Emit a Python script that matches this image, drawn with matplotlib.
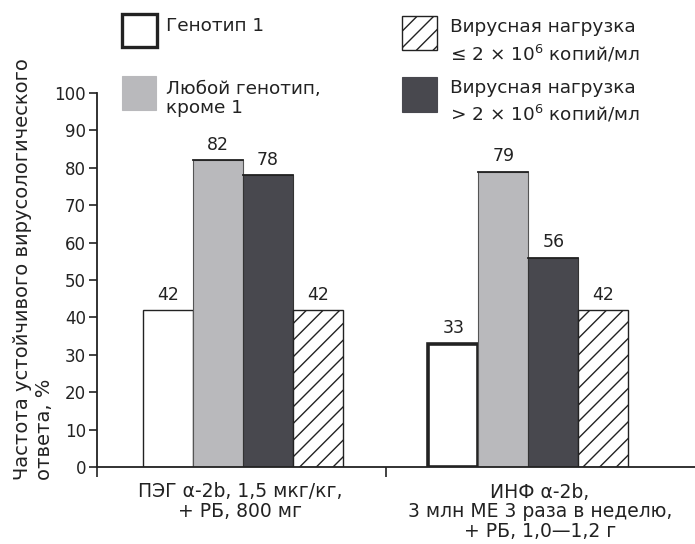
import matplotlib
matplotlib.use("Agg")
import matplotlib.pyplot as plt
import numpy as np
from matplotlib.patches import Rectangle

plt.rcParams['font.family'] = ['DejaVu Sans']
plt.rcParams['mathtext.fontset'] = 'dejavusans'
plt.rcParams['hatch.linewidth'] = 1.0

# data
groups = ['ПЭГ \u03b1-2b, 1,5 мкг/кг,\n+ РБ, 800 мг',
          'ИНФ \u03b1-2b,\n3 млн МЕ 3 раза в неделю,\n+ РБ, 1,0\u20141,2 г']
genotype1 = [42, 33]
other_genotype = [82, 79]
load_low = [42, 42]
load_high = [78, 56]
series_labels = ['Генотип 1',
                 'Любой генотип,\nкроме 1',
                 'Вирусная нагрузка\n\u2264 2 \u00d7 10$^6$ копий/мл',
                 'Вирусная нагрузка\n> 2 \u00d7 10$^6$ копий/мл']

W, H = 695, 544
ink = '#222222'
fig = plt.figure(figsize=(W / 100, H / 100), dpi=100)
ax = fig.add_axes([97 / W, (H - 467) / H, (W - 97) / W, (467 - 93) / H])

x = np.arange(len(groups))
bw = 0.175
light = '#b9b9bc'
dark = '#48484e'

b1 = ax.bar(x - 1.5 * bw, genotype1, bw, color='white', edgecolor=ink,
            linewidth=[1.0, 2.6])
b2 = ax.bar(x - 0.5 * bw, other_genotype, bw, color=light, edgecolor='#555555', linewidth=0.8)
b3 = ax.bar(x + 0.5 * bw, load_high, bw, color=dark, edgecolor='#333333', linewidth=0.8)
b4 = ax.bar(x + 1.5 * bw, load_low, bw, color='white', edgecolor=ink,
            linewidth=1.0, hatch='//')
# darker top edge on shaded bars
for bars in (b2, b3):
    for r in bars:
        ax.plot([r.get_x(), r.get_x() + r.get_width()], [r.get_height()] * 2,
                color=ink, lw=1.3)

for bars in (b1, b2, b3, b4):
    for r in bars:
        ax.annotate(f'{r.get_height():g}', (r.get_x() + r.get_width() / 2, r.get_height()),
                    xytext=(0, 4.5), textcoords='offset points', ha='center', va='bottom',
                    fontsize=12.5, color=ink)

xl = -0.511
ax.set_xlim(xl, 1.584)
ax.set_ylim(0, 100)
ax.set_yticks(np.arange(0, 101, 10))
ax.tick_params(axis='y', labelsize=12, length=6, width=1.2, pad=2, colors=ink)
ax.set_xticks([xl, 0.5])
ax.set_xticklabels(['', ''])
ax.tick_params(axis='x', length=7, width=1.2, colors=ink)
for s in ('top', 'right'):
    ax.spines[s].set_visible(False)
for s in ('left', 'bottom'):
    ax.spines[s].set_linewidth(1.3)
    ax.spines[s].set_color(ink)

# group labels: anchor is the baseline of the last line
for xi, lab, dx in zip(x, groups, [-0.01, 0.04]):
    nlines = lab.count('\n') + 1
    last_base = 497 + 20 * (nlines - 1)
    ax.text(xi + dx, -(last_base - 467) / 3.74, lab, ha='center', va='baseline',
            fontsize=13.5, linespacing=1.05, color=ink)

fig.text(47 / W, (H - 480) / H, 'Частота устойчивого вирусологического\nответа, %',
         rotation=90, rotation_mode='anchor', ha='left', va='baseline',
         multialignment='left', fontsize=14, linespacing=1.2, color=ink)

# legend drawn by hand
def box(x0, y0, w, h, **kw):
    fig.add_artist(Rectangle((x0 / W, 1 - (y0 + h) / H), w / W, h / H,
                             transform=fig.transFigure, **kw))

box(122, 14, 35, 33, facecolor='white', edgecolor=ink, linewidth=2.4)
box(122, 76, 34, 34, facecolor=light, edgecolor=light, linewidth=0.8)
box(402, 16, 35, 34, facecolor='white', edgecolor=ink, linewidth=1.0, hatch='//')
box(402, 77, 35, 35, facecolor=dark, edgecolor=dark, linewidth=0.8)

lx = [166, 166, 450, 450]
ly = [31, 113, 60, 120]  # baseline of the last line
lsp = [1.0, 1.05, 1.4, 1.35]
for txt, tx, ty, sp in zip(series_labels, lx, ly, lsp):
    fig.text(tx / W, 1 - ty / H, txt, ha='left', va='baseline', fontsize=13.3,
             linespacing=sp, color=ink)

fig.savefig('out.png', dpi=100)
